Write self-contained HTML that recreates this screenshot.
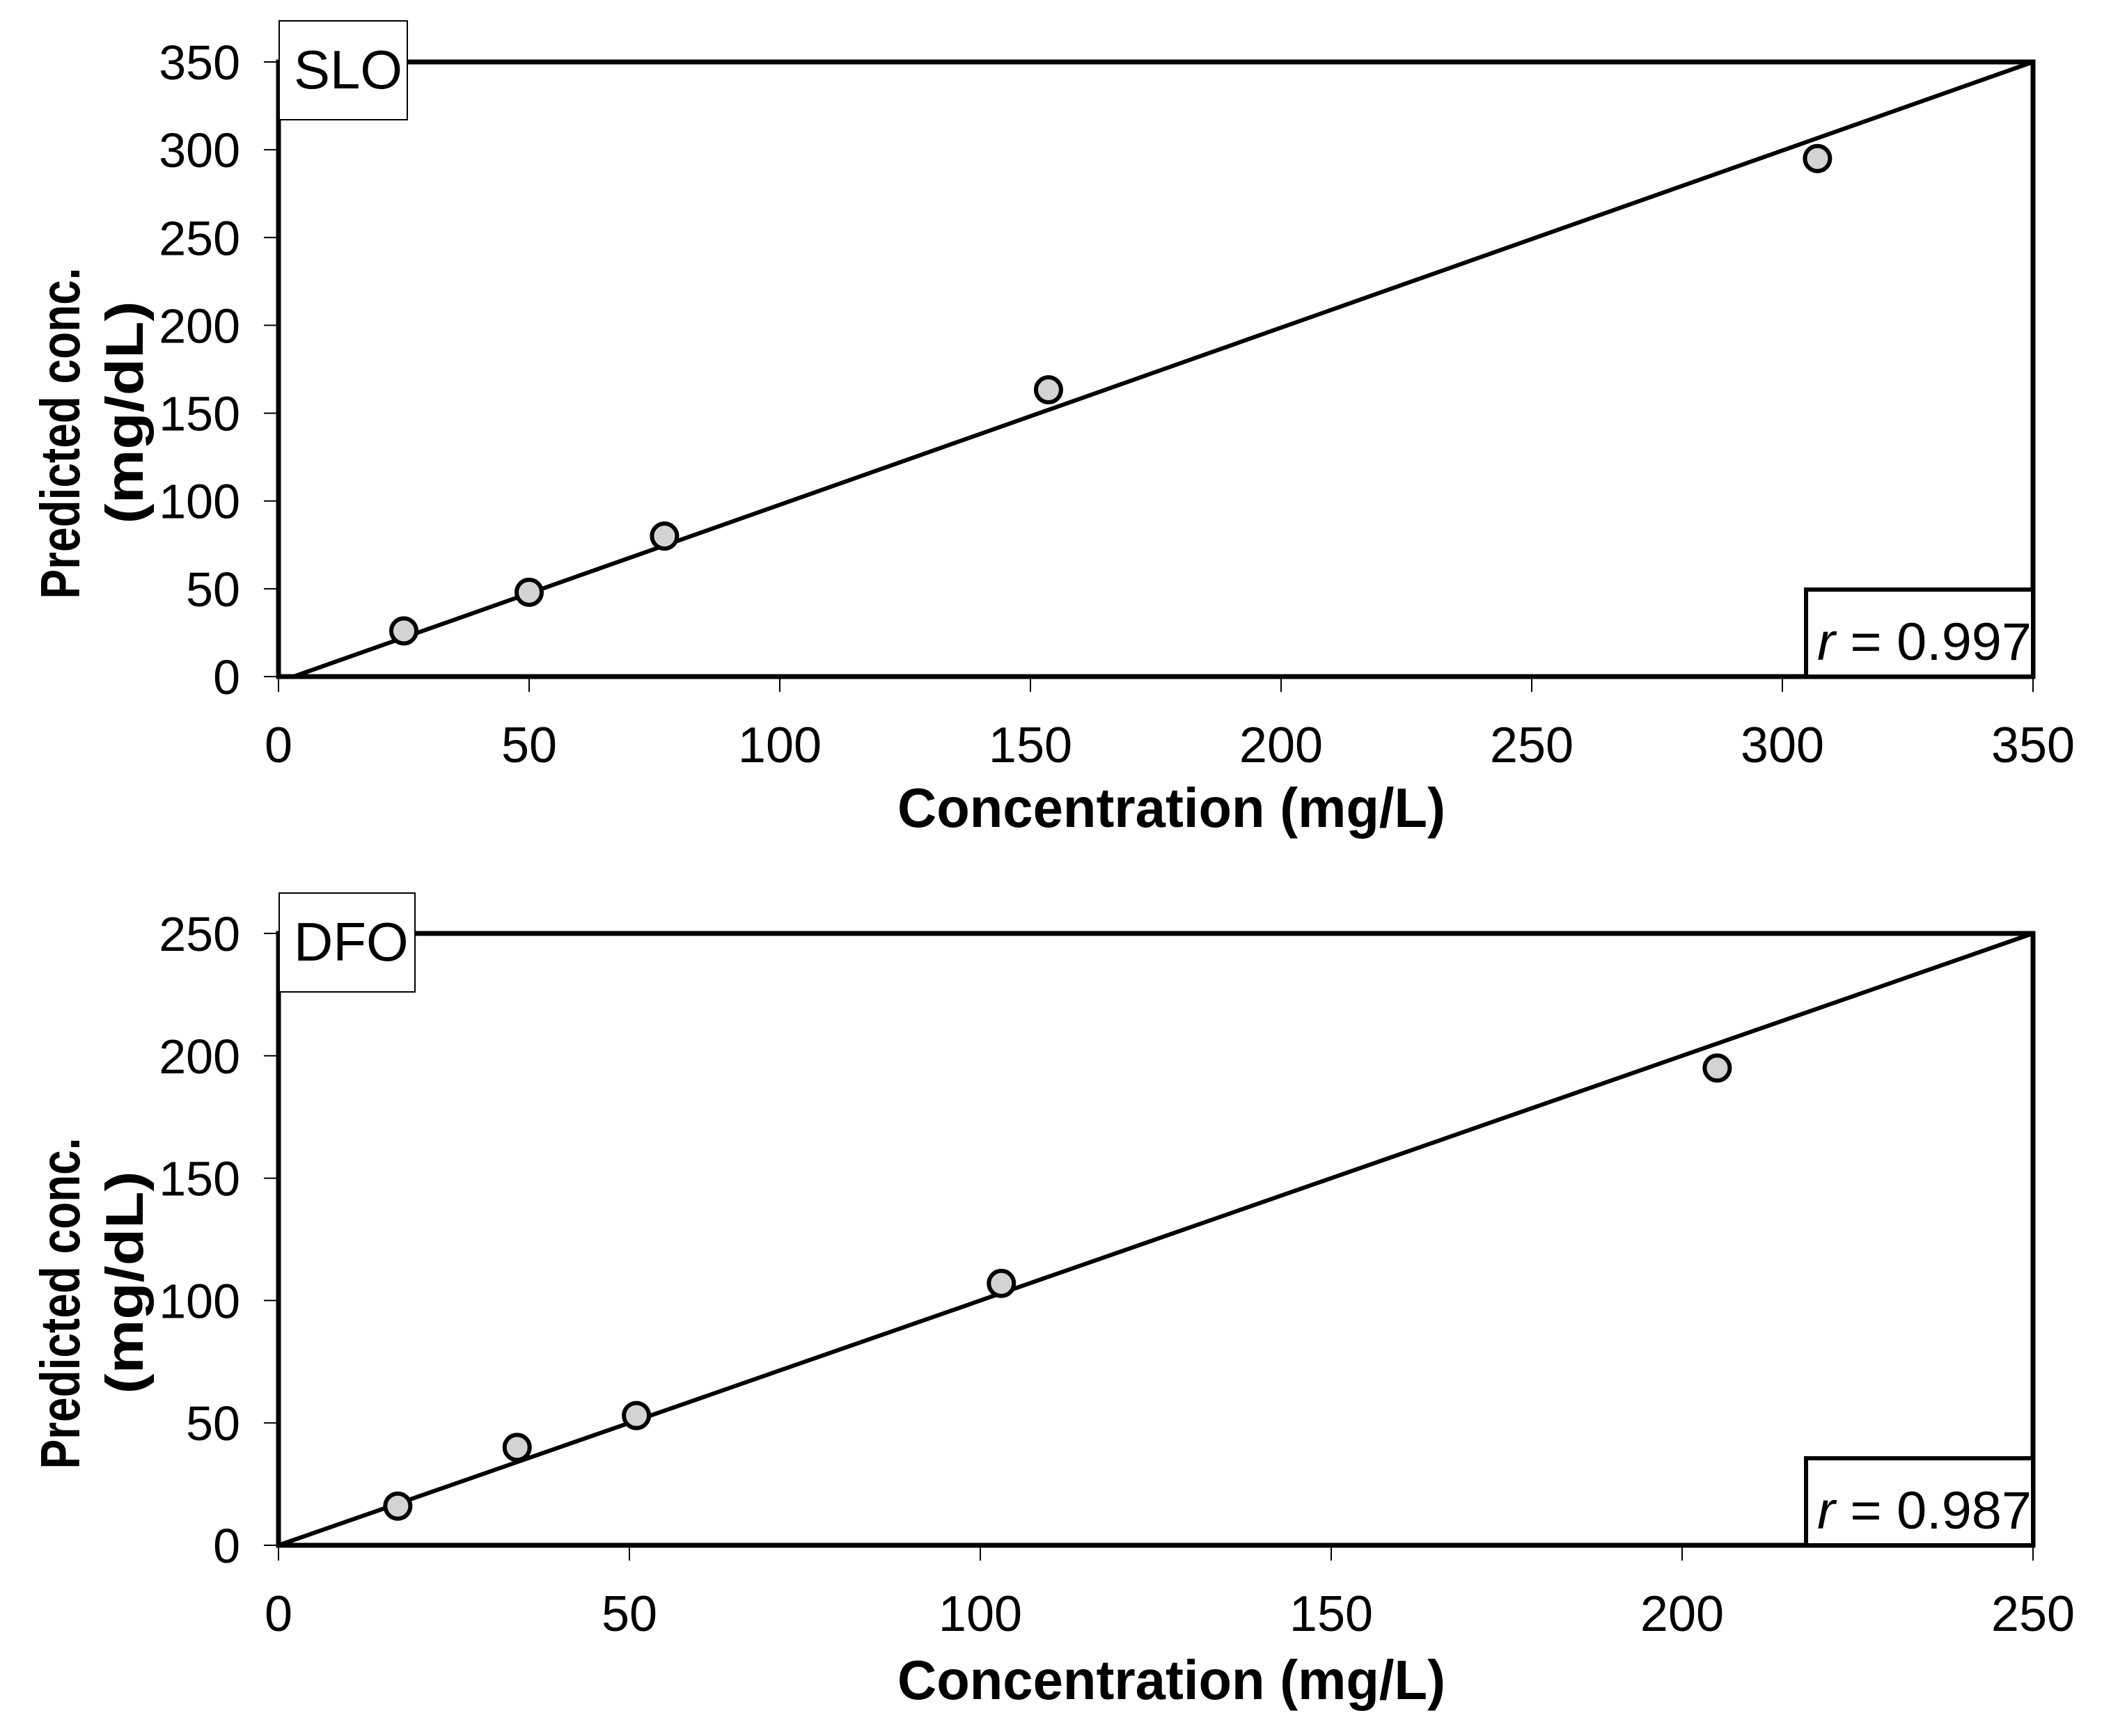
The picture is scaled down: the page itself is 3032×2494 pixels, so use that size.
<!DOCTYPE html>
<html><head><meta charset="utf-8"><style>
html,body{margin:0;padding:0;background:#fff;}
svg{display:block;}
text{font-family:"Liberation Sans",sans-serif;fill:#000;}
</style></head><body>
<svg id="chart" width="3032" height="2494" viewBox="0 0 3032 2494" xmlns="http://www.w3.org/2000/svg"></svg>
<script>
const sloX = [25, 50, 77, 153.6, 307];
const sloY = [26, 48, 80, 163.3, 295];
const dfoX = [17, 34, 51, 103, 205];
const dfoY = [16, 40, 53, 107, 195];
const sloTicks = [0, 50, 100, 150, 200, 250, 300, 350];
const dfoTicks = [0, 50, 100, 150, 200, 250];
const sloR = "0.997";
const dfoR = "0.987";

const NS = "http://www.w3.org/2000/svg";
const svg = document.getElementById('chart');
function mk(tag, attrs, parent, txt){
  const e = document.createElementNS(NS, tag);
  for (const k in attrs) e.setAttribute(k, attrs[k]);
  if (txt !== undefined) e.textContent = txt;
  (parent || svg).appendChild(e);
  return e;
}

function panel(cfg){
  const g = mk('g', {});
  
  
  const L = 400, R = 2920, T = cfg.top, B = cfg.bottom, max = cfg.max;
  const sx = v => L + v / max * (R - L);
  const sy = v => B - v / max * (B - T);
  cfg.ticks.forEach(t => {
    const ty = mk('line', {x1: 379, x2: L, y1: sy(t), y2: sy(t), stroke: '#000', 'stroke-width': 2}, g);
    
    
    const tl = mk('text', {x: 345, y: sy(t) + 25, 'text-anchor': 'end', 'font-size': 70}, g, String(t));
    
    
    const tx = mk('line', {x1: sx(t), x2: sx(t), y1: B, y2: B + 22, stroke: '#000', 'stroke-width': 2}, g);
    
    
    const xl = mk('text', {x: sx(t), y: cfg.xlabY, 'text-anchor': 'middle', 'font-size': 72}, g, String(t));
    
    
  });
  const fr = mk('rect', {x: L, y: T, width: R - L, height: B - T, fill: 'none', stroke: '#000', 'stroke-width': 7}, g);
  
  
  const ln = mk('line', {x1: sx(cfg.lineStart), y1: sy(0), x2: sx(max), y2: sy(max), stroke: '#000', 'stroke-width': 6}, g);
  
  
  cfg.xs.forEach((x, i) => {
    const c = mk('circle', {cx: sx(x), cy: sy(cfg.ys[i]), r: 18, fill: '#d3d3d3', stroke: '#000', 'stroke-width': 6}, g);
    
    
  });
  const nb = mk('rect', {x: 401, y: cfg.boxTop, width: cfg.boxW, height: 142, fill: '#fff', stroke: '#000', 'stroke-width': 2}, g);
  
  
  const nt = mk('text', {x: 422, y: cfg.boxTop + 97, 'font-size': 78}, g, cfg.label);
  
  
  const rb = mk('rect', {x: 2594, y: B - 125, width: R - 2594, height: 125, fill: '#fff', stroke: '#000', 'stroke-width': 6}, g);
  
  
  const rt = mk('text', {x: 2610, y: B - 24, 'font-size': 76, textLength: 308, lengthAdjust: 'spacingAndGlyphs'}, g);
  
  
  mk('tspan', {'font-style': 'italic'}, rt, 'r');
  mk('tspan', {}, rt, ' = ' + cfg.r);
  const xt = mk('text', {x: 1289, y: cfg.xTitleY, 'font-size': 80, 'font-weight': 'bold', textLength: 787, lengthAdjust: 'spacingAndGlyphs'}, g, 'Concentration (mg/L)');
  
  
  const mid = (T + B) / 2 + 2;
  const y1 = mk('text', {x: 0, y: 0, 'font-size': 80, 'font-weight': 'bold', 'text-anchor': 'middle', textLength: 476, lengthAdjust: 'spacingAndGlyphs', transform: 'translate(114,' + (mid + 90) + ') rotate(-90)'}, g, 'Predicted conc.');
  
  
  const y2 = mk('text', {x: 0, y: 0, 'font-size': 76, 'font-weight': 'bold', 'text-anchor': 'middle', textLength: 320, lengthAdjust: 'spacingAndGlyphs', transform: 'translate(205,' + (mid + 60) + ') rotate(-90)'}, g, '(mg/dL)');
  
  
}

panel({name: 'slo', top: 89, bottom: 972, max: 350, ticks: sloTicks, xs: sloX, ys: sloY, lineStart: 3,
  xlabY: 1095, xTitleY: 1188, label: 'SLO', boxTop: 30, boxW: 184, r: sloR});
panel({name: 'dfo', top: 1341, bottom: 2220, max: 250, ticks: dfoTicks, xs: dfoX, ys: dfoY, lineStart: 0,
  xlabY: 2343, xTitleY: 2441, label: 'DFO', boxTop: 1283, boxW: 195, r: dfoR});
</script>
</body></html>
